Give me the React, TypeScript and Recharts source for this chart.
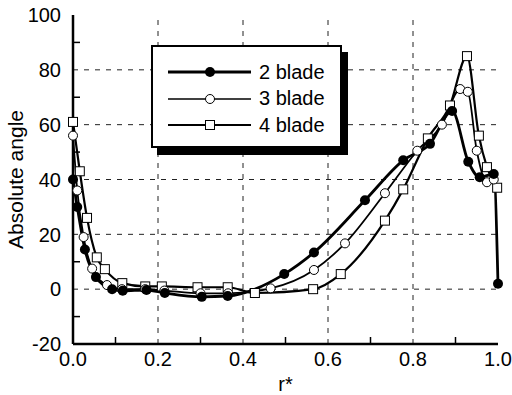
import { LineChart, Line, XAxis, YAxis, ReferenceLine, Legend } from 'recharts';

// r* positions and absolute angle per blade count
const blade2X = [0, 0.01, 0.028, 0.054, 0.092, 0.117, 0.173, 0.216, 0.303, 0.364, 0.497, 0.567, 0.687, 0.777, 0.84, 0.892, 0.93, 0.957, 0.99, 1.0];
const blade2Y = [40, 30, 14.5, 4.4, 0, -0.6, -0.3, -1.4, -2.8, -2.5, 5.5, 13.4, 32.4, 47, 53, 65, 46.5, 40.8, 42, 2];

const blade3X = [0, 0.01, 0.025, 0.045, 0.08, 0.115, 0.17, 0.215, 0.3, 0.365, 0.465, 0.567, 0.64, 0.734, 0.81, 0.868, 0.911, 0.929, 0.95, 0.974, 0.99];
const blade3Y = [56, 36, 19, 7.5, 1.5, 0, 0, -0.5, -1.5, -1.5, 0.3, 7, 16.7, 35, 50.5, 60, 73, 72, 50.5, 39, 40];

const blade4X = [0, 0.016, 0.033, 0.056, 0.075, 0.116, 0.17, 0.209, 0.293, 0.364, 0.428, 0.565, 0.63, 0.734, 0.777, 0.835, 0.887, 0.927, 0.955, 0.974, 0.998];
const blade4Y = [61, 43, 26, 11.6, 7.3, 2.2, 1, 1, 0.7, 0.7, -1.4, 0, 5.5, 25, 36.4, 55, 67, 85, 56, 44.5, 37];

const xTicks = [0, 0.1, 0.2, 0.3, 0.4, 0.5, 0.6, 0.7, 0.8, 0.9, 1.0];
const yTicks = [-20, -10, 0, 10, 20, 30, 40, 50, 60, 70, 80, 90, 100];
const xGrid = [0.2, 0.4, 0.6, 0.8];
const yGrid = [0, 20, 40, 60, 80];
const xMinor = [0.1, 0.3, 0.5, 0.7, 0.9];
const yMinor = [-10, 10, 30, 50, 70, 90];

const toPoints = (xs: number[], ys: number[]) => xs.map((x, i) => ({ x, y: ys[i] }));

const FONT = '"Liberation Sans", Arial, sans-serif';
const TICK_LEN = 7;

const BottomTick = ({ x, y, index }: any) => {
  if (index % 2 === 1) {
    return <line x1={x} y1={y} x2={x} y2={y - TICK_LEN} stroke="#000" strokeWidth={1.5} />;
  }
  return (
    <text x={x} y={y + 8} dy="0.71em" textAnchor="middle" fontSize={20} fontFamily={FONT} fill="#000">
      {xTicks[index].toFixed(1)}
    </text>
  );
};

const LeftTick = ({ x, y, index }: any) => {
  if (index % 2 === 1) {
    return <line x1={x} y1={y} x2={x + TICK_LEN} y2={y} stroke="#000" strokeWidth={1.5} />;
  }
  return (
    <text x={x - 12} y={y} dy="0.36em" textAnchor="end" fontSize={20} fontFamily={FONT} fill="#000">
      {yTicks[index]}
    </text>
  );
};

const TopTick = ({ x, y }: any) => (
  <line x1={x} y1={y} x2={x} y2={y + TICK_LEN} stroke="#000" strokeWidth={1.5} />
);

const RightTick = ({ x, y }: any) => (
  <line x1={x} y1={y} x2={x - TICK_LEN} y2={y} stroke="#000" strokeWidth={1.5} />
);

const SquareDot = ({ cx, cy }: any) => {
  if (cx == null || cy == null) return null;
  return <rect x={cx - 4.5} y={cy - 4.5} width={9} height={9} fill="#fff" stroke="#000" strokeWidth={1} />;
};

const YLabel = ({ viewBox }: any) => {
  const cx = viewBox.x + 15;
  const cy = viewBox.y + viewBox.height / 2;
  return (
    <text x={cx} y={cy} transform={`rotate(-90 ${cx} ${cy})`} textAnchor="middle" dy="0.36em" fontSize={21} fontFamily={FONT} fill="#000">
      Absolute angle
    </text>
  );
};

const legendRows = [
  { name: '2 blade', width: 2.8, marker: 'filled' },
  { name: '3 blade', width: 1.4, marker: 'open' },
  { name: '4 blade', width: 2, marker: 'square' },
];

const LegendBox = () => (
  <div
    style={{
      width: 187,
      height: 97,
      border: '2px solid #000',
      boxShadow: '6px 7px 0 #000',
      background: '#fff',
      boxSizing: 'content-box',
      paddingTop: 2,
    }}
  >
    {legendRows.map((r) => (
      <div key={r.name} style={{ display: 'flex', alignItems: 'center', height: 26.5, marginTop: r.name === '2 blade' ? 10 : 0 }}>
        <svg width={100} height={20} style={{ marginLeft: 15 }}>
          <line x1={0} y1={10} x2={83} y2={10} stroke="#000" strokeWidth={r.width} />
          {r.marker === 'filled' && <circle cx={42} cy={10} r={5} fill="#000" />}
          {r.marker === 'open' && <circle cx={42} cy={10} r={4.5} fill="#fff" stroke="#000" strokeWidth={1} />}
          {r.marker === 'square' && <rect x={37.5} y={5.5} width={9} height={9} fill="#fff" stroke="#000" strokeWidth={1} />}
        </svg>
        <span style={{ fontFamily: FONT, fontSize: 20, color: '#000', marginLeft: -9 }}>{r.name}</span>
      </div>
    ))}
  </div>
);

export default function App() {
  return (
    <div style={{ position: 'absolute', left: 0, top: 0, background: '#fff' }}>
      <LineChart width={512} height={395} margin={{ top: 15, right: 14, bottom: 0, left: 0 }}>
        <XAxis
          dataKey="x"
          type="number"
          domain={[0, 1]}
          ticks={xTicks}
          interval={0}
          height={51}
          tickSize={0}
          tickMargin={0}
          tick={<BottomTick />}
          axisLine={{ stroke: '#000', strokeWidth: 2.5 }}
          tickLine={false}
          label={{ value: 'r*', position: 'insideBottom', offset: 4, fontSize: 20, fontFamily: FONT, fill: '#000' }}
        />
        <XAxis
          xAxisId="top"
          orientation="top"
          dataKey="x"
          type="number"
          domain={[0, 1]}
          ticks={xMinor}
          interval={0}
          height={0}
          tickSize={0}
          tickMargin={0}
          tick={<TopTick />}
          axisLine={{ stroke: '#000', strokeWidth: 2.5 }}
          tickLine={false}
        />
        <YAxis
          type="number"
          domain={[-20, 100]}
          ticks={yTicks}
          interval={0}
          width={73}
          tickSize={0}
          tickMargin={0}
          tick={<LeftTick />}
          axisLine={{ stroke: '#000', strokeWidth: 2.5 }}
          tickLine={false}
          label={(p: any) => <YLabel {...p} />}
        />
        <YAxis
          yAxisId="right"
          orientation="right"
          type="number"
          domain={[-20, 100]}
          ticks={yMinor}
          interval={0}
          width={0}
          tickSize={0}
          tickMargin={0}
          tick={<RightTick />}
          axisLine={{ stroke: '#000', strokeWidth: 2.5 }}
          tickLine={false}
        />
        {xGrid.map((v) => (
          <ReferenceLine key={`gx${v}`} x={v} stroke="#222" strokeWidth={1} strokeDasharray="5 6" />
        ))}
        {yGrid.map((v) => (
          <ReferenceLine key={`gy${v}`} y={v} stroke="#222" strokeWidth={1} strokeDasharray="5 6" />
        ))}
        <Legend
          layout="vertical"
          align="center"
          verticalAlign="middle"
          content={() => <LegendBox />}
          wrapperStyle={{ position: 'absolute', left: 151, top: 45, width: 'auto' }}
        />
        <Line
          name="4 blade"
          data={toPoints(blade4X, blade4Y)}
          dataKey="y"
          type="monotone"
          stroke="#000"
          strokeWidth={2.2}
          dot={<SquareDot />}
          activeDot={false}
          isAnimationActive={false}
        />
        <Line
          name="3 blade"
          data={toPoints(blade3X, blade3Y)}
          dataKey="y"
          type="monotone"
          stroke="#000"
          strokeWidth={1.8}
          dot={{ r: 4.5, fill: '#fff', stroke: '#000', strokeWidth: 1 }}
          activeDot={false}
          isAnimationActive={false}
        />
        <Line
          name="2 blade"
          data={toPoints(blade2X, blade2Y)}
          dataKey="y"
          type="monotone"
          stroke="#000"
          strokeWidth={2.8}
          dot={{ r: 5, fill: '#000', stroke: '#000', strokeWidth: 0 }}
          activeDot={false}
          isAnimationActive={false}
        />
      </LineChart>
    </div>
  );
}
